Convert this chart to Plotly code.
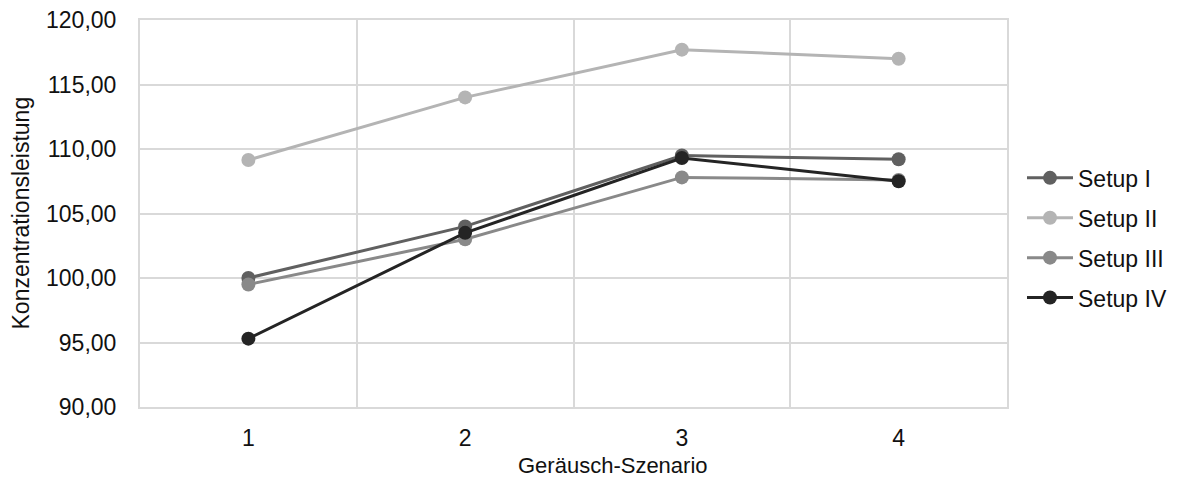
import plotly.graph_objects as go

szenarien = [1, 2, 3, 4]
setup_1 = [100.0, 104.0, 109.5, 109.2]
setup_2 = [109.15, 114.0, 117.7, 117.0]
setup_3 = [99.5, 103.0, 107.8, 107.6]
setup_4 = [95.3, 103.5, 109.3, 107.5]

series = [
    ("Setup I", setup_1, "#606060"),
    ("Setup II", setup_2, "#b4b4b4"),
    ("Setup III", setup_3, "#898989"),
    ("Setup IV", setup_4, "#242424"),
]

fig = go.Figure()
for name, vals, color in series:
    fig.add_trace(go.Scatter(
        x=szenarien, y=vals, name=name, mode="lines+markers",
        line=dict(color=color, width=3),
        marker=dict(color=color, size=14),
        legendgroup=name,
    ))

font = "Liberation Sans, Arial, sans-serif"
fsize = 23
grid = "#d9d9d9"
fig.update_layout(
    width=1177, height=477,
    margin=dict(l=140, r=170, t=20, b=70, autoexpand=False),
    plot_bgcolor="white", paper_bgcolor="white",
    separators=",.",
    font=dict(family=font, size=fsize, color="#111111"),
    legend=dict(x=1.0173, y=0.437, yanchor="middle", xanchor="left",
                font=dict(family=font, size=fsize), tracegroupgap=7, itemwidth=46),
    xaxis=dict(
        range=[0.5, 4.5], tickvals=szenarien, showgrid=False, zeroline=False,
        automargin=False,
        ticks="outside", ticklen=9, tickcolor="white",
        tickfont=dict(family=font, size=fsize),
        showline=True, mirror=True, linecolor=grid, linewidth=2,
        minor=dict(tickvals=[1.5, 2.5, 3.5], showgrid=True,
                   gridcolor=grid, gridwidth=2),
    ),
    yaxis=dict(
        range=[90, 120], dtick=5, tickformat=".2f", showgrid=True,
        gridcolor=grid, gridwidth=2, zeroline=False, automargin=False,
        showline=True, mirror=True, linecolor=grid, linewidth=2,
        ticks="outside", ticklen=17, tickcolor="white",
        tickfont=dict(family=font, size=fsize),
    ),
    annotations=[
        dict(text="Geräusch-Szenario", xref="paper", yref="paper",
             x=0.5456, y=-0.152, xanchor="center", yanchor="middle",
             showarrow=False, borderpad=0, font=dict(family=font, size=22)),
        dict(text="Konzentrationsleistung", xref="paper", yref="paper",
             x=-0.1384, y=0.5, xanchor="center", yanchor="middle",
             textangle=-90, showarrow=False, borderpad=0,
             font=dict(family=font, size=fsize)),
    ],
)

fig.write_html("out.html")
